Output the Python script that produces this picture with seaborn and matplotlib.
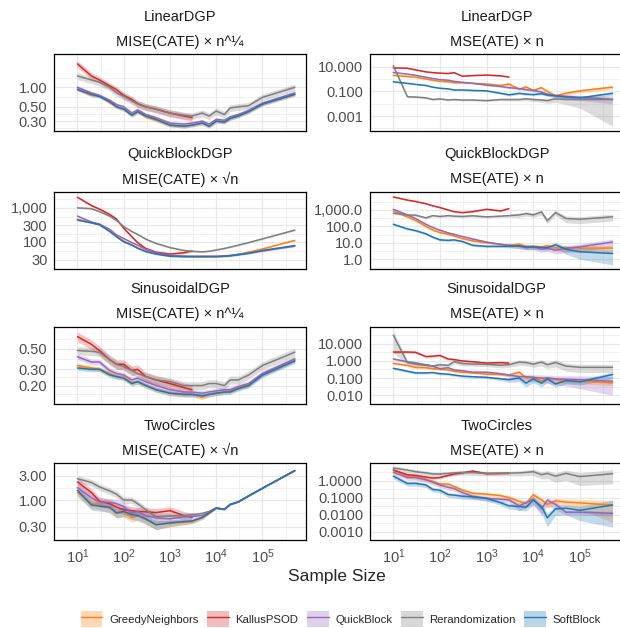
import numpy as np
import pandas as pd
import matplotlib
matplotlib.use("Agg")
import matplotlib.pyplot as plt
import seaborn as sns
from matplotlib.lines import Line2D
from matplotlib.patches import Patch
from matplotlib.ticker import NullFormatter

# === DANE ===
sample_sizes = [10, 20, 30, 50, 70, 100, 150, 200, 300, 500, 1000, 2000, 3000,
                5000, 7000, 10000, 15000, 20000, 30000, 50000, 100000, 500000]
methods = ["GreedyNeighbors", "KallusPSOD", "QuickBlock", "Rerandomization", "SoftBlock"]
colors = ["#ff7f0e", "#d62728", "#9467bd", "#7f7f7f", "#1f77b4"]

dgps = ["LinearDGP", "QuickBlockDGP", "SinusoidalDGP", "TwoCircles"]
cate_titles = ["MISE(CATE) × n^¼", "MISE(CATE) × √n", "MISE(CATE) × n^¼", "MISE(CATE) × √n"]
ate_title = "MSE(ATE) × n"

# --- LinearDGP ---
linear_cate = {
    "GreedyNeighbors": [0.95, 0.75, 0.74, 0.58, 0.50, 0.46, 0.37, 0.42, 0.35, 0.31, 0.26, 0.25, 0.26, 0.28, 0.25, 0.30, 0.29, 0.33, 0.36, 0.42, 0.55, 0.78],
    "KallusPSOD": [2.3, 1.5, 1.3, 1.05, 0.92, 0.75, 0.65, 0.56, 0.50, 0.46, 0.40, 0.36, 0.34],
    "QuickBlock": [1.0, 0.82, 0.75, 0.63, 0.54, 0.50, 0.40, 0.45, 0.38, 0.34, 0.28, 0.27, 0.28, 0.30, 0.27, 0.32, 0.31, 0.35, 0.38, 0.44, 0.57, 0.82],
    "Rerandomization": [1.5, 1.3, 1.2, 1.0, 0.82, 0.73, 0.62, 0.55, 0.50, 0.46, 0.40, 0.37, 0.36, 0.40, 0.36, 0.43, 0.38, 0.48, 0.50, 0.52, 0.70, 1.0],
    "SoftBlock": [0.92, 0.78, 0.72, 0.60, 0.50, 0.46, 0.37, 0.42, 0.36, 0.32, 0.26, 0.25, 0.26, 0.28, 0.25, 0.30, 0.29, 0.33, 0.36, 0.42, 0.55, 0.78],
}
linear_cate_err = {"GreedyNeighbors": 0.06, "KallusPSOD": 0.12, "QuickBlock": 0.06,
                   "Rerandomization": 0.12, "SoftBlock": 0.06}

linear_ate = {
    "GreedyNeighbors": [2.0, 1.6, 1.4, 1.0, 0.8, 0.66, 0.6, 0.5, 0.5, 0.45, 0.4, 0.3, 0.4, 0.15, 0.23, 0.12, 0.2, 0.1, 0.045, 0.07, 0.11, 0.22],
    "KallusPSOD": [8.0, 7.4, 5.5, 3.8, 3.3, 3.0, 2.8, 3.3, 1.7, 1.9, 2.1, 1.8, 1.45],
    "QuickBlock": [3.4, 2.5, 2.0, 1.4, 1.1, 0.9, 0.8, 0.65, 0.55, 0.45, 0.32, 0.25, 0.2, 0.17, 0.14, 0.12, 0.09, 0.06, 0.045, 0.04, 0.033, 0.022],
    "Rerandomization": [12.0, 0.037, 0.035, 0.03, 0.022, 0.025, 0.02, 0.022, 0.02, 0.02, 0.018, 0.022, 0.022, 0.022, 0.025, 0.022, 0.02, 0.018, 0.025, 0.022, 0.022, 0.022],
    "SoftBlock": [0.59, 0.45, 0.37, 0.3, 0.22, 0.18, 0.16, 0.13, 0.13, 0.12, 0.11, 0.07, 0.053, 0.07, 0.06, 0.055, 0.065, 0.05, 0.044, 0.035, 0.03, 0.07],
}
linear_ate_err = {
    "GreedyNeighbors": [0.1, 0.1, 0.1, 0.1, 0.1, 0.1, 0.1, 0.1, 0.1, 0.1, 0.12, 0.15, 0.25, 0.2, 0.2, 0.2, 0.2, 0.25, 0.3, 0.3, 0.3, 0.35],
    "KallusPSOD": 0.08,
    "QuickBlock": [0.12, 0.1, 0.1, 0.1, 0.1, 0.1, 0.1, 0.1, 0.1, 0.1, 0.12, 0.15, 0.15, 0.2, 0.2, 0.25, 0.3, 0.3, 0.35, 0.4, 0.45, 0.55],
    "Rerandomization": [0.3, 0.2, 0.15, 0.15, 0.15, 0.15, 0.15, 0.15, 0.15, 0.15, 0.15, 0.2, 0.25, 0.25, 0.3, 0.3, 0.35, 0.4, 0.5, 0.6, 0.8, 0.993],
    "SoftBlock": [0.12, 0.1, 0.1, 0.1, 0.1, 0.1, 0.1, 0.1, 0.1, 0.1, 0.12, 0.15, 0.2, 0.2, 0.2, 0.2, 0.2, 0.2, 0.25, 0.25, 0.3, 0.3],
}

# --- QuickBlockDGP ---
quick_cate = {
    "GreedyNeighbors": [460, 360, 320, 205, 145, 105, 82, 67, 53, 45, 39, 38, 37, 37, 37, 37, 38, 40, 43, 50, 62, 110],
    "KallusPSOD": [2000, 1150, 900, 630, 460, 250, 140, 95, 64, 50, 44, 48, 54],
    "QuickBlock": [565, 380, 330, 230, 160, 125, 95, 80, 60, 48, 40, 38, 38, 38, 38, 38, 39, 40, 43, 47, 54, 75],
    "Rerandomization": [980, 930, 760, 560, 420, 280, 200, 165, 120, 90, 68, 56, 53, 51, 53, 58, 64, 70, 80, 95, 122, 220],
    "SoftBlock": [430, 360, 315, 200, 140, 100, 80, 65, 52, 44, 38, 37, 37, 37, 37, 37, 38, 39, 42, 46, 56, 78],
}
quick_cate_err = {"GreedyNeighbors": 0.05, "KallusPSOD": 0.07, "QuickBlock": 0.05,
                  "Rerandomization": 0.05, "SoftBlock": 0.05}

quick_ate = {
    "GreedyNeighbors": [870, 380, 230, 100, 60, 42, 33, 26, 18, 13, 10, 8, 7, 8, 6, 6, 5.5, 6.5, 5, 5, 4.7, 4.7],
    "KallusPSOD": [6200, 4000, 3300, 2400, 1800, 1400, 1000, 790, 690, 790, 1100, 870, 1200],
    "QuickBlock": [1100, 500, 300, 134, 85, 58, 40, 33, 24, 17, 11, 8, 7, 6, 5, 5.6, 4, 4.5, 3.5, 4.5, 5.6, 11],
    "Rerandomization": [630, 500, 480, 330, 450, 400, 450, 420, 400, 440, 380, 420, 450, 500, 600, 500, 750, 220, 700, 300, 270, 380],
    "SoftBlock": [134, 70, 55, 35, 22, 15, 14, 15, 12, 7, 6, 6, 6, 6.5, 5.5, 5.6, 5.2, 5, 7.5, 4, 2.8, 2.2],
}
quick_ate_err = {
    "GreedyNeighbors": [0.15, 0.15, 0.15, 0.15, 0.15, 0.15, 0.15, 0.15, 0.15, 0.15, 0.15, 0.15, 0.2, 0.25, 0.3, 0.3, 0.3, 0.3, 0.35, 0.4, 0.45, 0.5],
    "KallusPSOD": 0.08,
    "QuickBlock": [0.12, 0.12, 0.12, 0.12, 0.12, 0.12, 0.12, 0.12, 0.12, 0.12, 0.12, 0.12, 0.2, 0.3, 0.3, 0.35, 0.35, 0.35, 0.4, 0.45, 0.5, 0.55],
    "Rerandomization": [0.15, 0.15, 0.15, 0.15, 0.15, 0.15, 0.15, 0.15, 0.15, 0.15, 0.15, 0.15, 0.2, 0.3, 0.3, 0.3, 0.35, 0.35, 0.35, 0.45, 0.45, 0.45],
    "SoftBlock": [0.15, 0.15, 0.15, 0.15, 0.15, 0.15, 0.15, 0.15, 0.15, 0.15, 0.15, 0.15, 0.2, 0.3, 0.3, 0.3, 0.3, 0.3, 0.4, 0.5, 0.65, 0.8],
}

# --- SinusoidalDGP ---
sin_cate = {
    "GreedyNeighbors": [0.33, 0.31, 0.30, 0.27, 0.25, 0.245, 0.215, 0.22, 0.20, 0.18, 0.165, 0.16, 0.16, 0.15, 0.16, 0.165, 0.17, 0.175, 0.19, 0.205, 0.265, 0.38],
    "KallusPSOD": [0.68, 0.56, 0.48, 0.38, 0.34, 0.34, 0.29, 0.30, 0.25, 0.23, 0.21, 0.19, 0.18],
    "QuickBlock": [0.41, 0.36, 0.36, 0.29, 0.27, 0.26, 0.23, 0.24, 0.22, 0.20, 0.18, 0.17, 0.17, 0.165, 0.17, 0.175, 0.18, 0.18, 0.195, 0.21, 0.27, 0.39],
    "Rerandomization": [0.48, 0.47, 0.46, 0.38, 0.34, 0.32, 0.29, 0.27, 0.25, 0.23, 0.22, 0.20, 0.20, 0.20, 0.21, 0.21, 0.20, 0.23, 0.23, 0.26, 0.33, 0.46],
    "SoftBlock": [0.31, 0.30, 0.30, 0.26, 0.25, 0.24, 0.21, 0.22, 0.20, 0.18, 0.165, 0.16, 0.16, 0.155, 0.16, 0.165, 0.17, 0.17, 0.185, 0.20, 0.26, 0.37],
}
sin_cate_err = {"GreedyNeighbors": 0.06, "KallusPSOD": 0.12, "QuickBlock": 0.07,
                "Rerandomization": 0.1, "SoftBlock": 0.06}

sin_ate = {
    "GreedyNeighbors": [0.72, 0.55, 0.42, 0.4, 0.35, 0.33, 0.3, 0.25, 0.22, 0.2, 0.17, 0.16, 0.15, 0.22, 0.1, 0.11, 0.07, 0.1, 0.08, 0.07, 0.065, 0.052],
    "KallusPSOD": [3.3, 3.3, 3.2, 1.8, 1.9, 2.1, 1.3, 1.2, 1.0, 0.9, 0.75, 0.8, 0.75],
    "QuickBlock": [1.3, 0.9, 0.77, 0.6, 0.5, 0.35, 0.4, 0.3, 0.27, 0.22, 0.22, 0.18, 0.15, 0.12, 0.12, 0.11, 0.1, 0.1, 0.09, 0.085, 0.08, 0.065],
    "Rerandomization": [32, 0.8, 0.63, 0.55, 0.5, 0.6, 0.55, 0.9, 0.7, 0.65, 0.63, 0.56, 0.6, 0.85, 0.8, 0.65, 0.85, 0.6, 0.8, 0.5, 0.42, 0.42],
    "SoftBlock": [0.37, 0.25, 0.2, 0.2, 0.21, 0.18, 0.17, 0.15, 0.13, 0.12, 0.11, 0.09, 0.08, 0.1, 0.05, 0.09, 0.05, 0.09, 0.045, 0.07, 0.06, 0.16],
}
sin_ate_err = {
    "GreedyNeighbors": [0.15, 0.15, 0.15, 0.15, 0.15, 0.15, 0.15, 0.15, 0.15, 0.15, 0.15, 0.15, 0.2, 0.3, 0.3, 0.3, 0.3, 0.3, 0.3, 0.3, 0.3, 0.3],
    "KallusPSOD": 0.15,
    "QuickBlock": [0.15, 0.15, 0.15, 0.15, 0.15, 0.15, 0.15, 0.15, 0.15, 0.15, 0.15, 0.15, 0.25, 0.35, 0.4, 0.45, 0.5, 0.5, 0.55, 0.6, 0.7, 0.85],
    "Rerandomization": [0.9, 0.3, 0.25, 0.25, 0.25, 0.25, 0.25, 0.25, 0.25, 0.25, 0.25, 0.3, 0.3, 0.35, 0.35, 0.35, 0.4, 0.4, 0.45, 0.5, 0.5, 0.5],
    "SoftBlock": [0.15, 0.15, 0.15, 0.15, 0.15, 0.15, 0.15, 0.15, 0.15, 0.15, 0.15, 0.2, 0.3, 0.4, 0.4, 0.4, 0.4, 0.4, 0.35, 0.35, 0.35, 0.4],
}

# --- TwoCircles ---
tc_cate = {
    "GreedyNeighbors": [1.4, 0.86, 0.81, 0.7, 0.56, 0.58, 0.46, 0.5, 0.42, 0.33, 0.35, 0.37, 0.38, 0.45, 0.55, 0.7, 0.66, 0.82, 0.92, 1.2, 1.7, 3.75],
    "KallusPSOD": [2.25, 1.4, 0.95, 0.85, 0.73, 0.65, 0.62, 0.6, 0.59, 0.57, 0.62, 0.5, 0.46],
    "QuickBlock": [1.75, 1.1, 0.92, 0.9, 0.85, 0.75, 0.55, 0.6, 0.5, 0.45, 0.43, 0.47, 0.48, 0.5, 0.58, 0.7, 0.66, 0.82, 0.92, 1.2, 1.7, 3.75],
    "Rerandomization": [2.6, 2.2, 1.8, 1.5, 1.3, 1.0, 1.0, 0.85, 0.65, 0.47, 0.49, 0.5, 0.52, 0.55, 0.6, 0.7, 0.66, 0.82, 0.92, 1.2, 1.7, 3.75],
    "SoftBlock": [1.55, 0.8, 0.76, 0.72, 0.56, 0.6, 0.52, 0.5, 0.43, 0.33, 0.36, 0.38, 0.39, 0.46, 0.56, 0.7, 0.66, 0.82, 0.92, 1.2, 1.7, 3.75],
}
tc_cate_err = {
    "GreedyNeighbors": [0.2, 0.2, 0.2, 0.2, 0.2, 0.2, 0.2, 0.2, 0.2, 0.2, 0.15, 0.12, 0.1, 0.08, 0.05, 0.04, 0.03, 0.03, 0.02, 0.02, 0.02, 0.02],
    "KallusPSOD": 0.2,
    "QuickBlock": [0.2, 0.2, 0.2, 0.2, 0.2, 0.2, 0.2, 0.2, 0.2, 0.2, 0.15, 0.12, 0.1, 0.08, 0.05, 0.04, 0.03, 0.03, 0.02, 0.02, 0.02, 0.02],
    "Rerandomization": [0.15, 0.15, 0.15, 0.15, 0.15, 0.15, 0.15, 0.15, 0.15, 0.15, 0.12, 0.1, 0.08, 0.06, 0.05, 0.04, 0.03, 0.03, 0.02, 0.02, 0.02, 0.02],
    "SoftBlock": [0.2, 0.2, 0.2, 0.2, 0.2, 0.2, 0.2, 0.2, 0.2, 0.2, 0.15, 0.12, 0.1, 0.08, 0.05, 0.04, 0.03, 0.03, 0.02, 0.02, 0.02, 0.02],
}

tc_ate = {
    "GreedyNeighbors": [4.1, 1.8, 1.6, 1.2, 0.9, 0.62, 0.62, 0.45, 0.28, 0.18, 0.16, 0.13, 0.1, 0.06, 0.045, 0.146, 0.073, 0.04, 0.065, 0.055, 0.049, 0.036],
    "KallusPSOD": [4.1, 2.2, 2.0, 1.6, 1.4, 1.5, 2.0, 2.4, 2.8, 3.6, 2.5, 2.6, 2.7],
    "QuickBlock": [3.0, 1.5, 1.5, 1.1, 0.8, 0.55, 0.4, 0.34, 0.2, 0.12, 0.09, 0.08, 0.073, 0.033, 0.05, 0.08, 0.022, 0.07, 0.04, 0.014, 0.014, 0.012],
    "Rerandomization": [5.4, 4.1, 3.3, 2.8, 2.4, 2.4, 2.6, 2.8, 3.0, 2.9, 2.7, 2.7, 2.7, 2.8, 3.0, 3.3, 2.2, 2.6, 1.8, 2.6, 1.7, 2.5],
    "SoftBlock": [1.8, 0.67, 0.68, 0.55, 0.3, 0.27, 0.15, 0.14, 0.12, 0.11, 0.09, 0.05, 0.033, 0.03, 0.027, 0.073, 0.03, 0.0066, 0.022, 0.024, 0.018, 0.037],
}
tc_ate_err = {
    "GreedyNeighbors": [0.25, 0.25, 0.25, 0.25, 0.25, 0.25, 0.25, 0.25, 0.25, 0.25, 0.25, 0.25, 0.3, 0.35, 0.35, 0.4, 0.4, 0.4, 0.4, 0.45, 0.6, 0.9],
    "KallusPSOD": 0.15,
    "QuickBlock": [0.3, 0.3, 0.3, 0.3, 0.3, 0.3, 0.3, 0.3, 0.3, 0.3, 0.3, 0.3, 0.3, 0.5, 0.5, 0.5, 0.6, 0.5, 0.5, 0.3, 0.3, 0.3],
    "Rerandomization": [0.3, 0.3, 0.3, 0.3, 0.3, 0.3, 0.3, 0.3, 0.3, 0.3, 0.3, 0.3, 0.3, 0.35, 0.35, 0.4, 0.45, 0.5, 0.55, 0.6, 0.7, 0.75],
    "SoftBlock": [0.3, 0.3, 0.3, 0.3, 0.3, 0.3, 0.3, 0.3, 0.3, 0.3, 0.3, 0.3, 0.35, 0.4, 0.4, 0.5, 0.6, 0.7, 0.6, 0.6, 0.75, 0.95],
}

# === OSIE Y (ticki i zakresy) ===
y_ticks = [
    ([0.3, 0.5, 1.0], ["0.30", "0.50", "1.00"]),
    ([0.001, 0.1, 10], ["0.001", "0.100", "10.000"]),
    ([30, 100, 300, 1000], ["30", "100", "300", "1,000"]),
    ([1, 10, 100, 1000], ["1.0", "10.0", "100.0", "1,000.0"]),
    ([0.2, 0.3, 0.5], ["0.20", "0.30", "0.50"]),
    ([0.01, 0.1, 1, 10], ["0.010", "0.100", "1.000", "10.000"]),
    ([0.3, 1, 3], ["0.30", "1.00", "3.00"]),
    ([0.001, 0.01, 0.1, 1], ["0.0010", "0.0100", "0.1000", "1.0000"]),
]
y_limits = [(0.209, 3.24), (5.9e-5, 69), (26, 2900), (0.26, 13000),
            (0.127, 0.87), (0.0066, 100), (0.247, 4.4), (0.001, 10.2)]
x_ticks = [10, 100, 1000, 10000, 100000]
x_labels = [r"$\mathregular{10^{1}}$", r"$\mathregular{10^{2}}$", r"$\mathregular{10^{3}}$",
            r"$\mathregular{10^{4}}$", r"$\mathregular{10^{5}}$"]

panel_values = [linear_cate, linear_ate, quick_cate, quick_ate, sin_cate, sin_ate, tc_cate, tc_ate]
panel_errs = [linear_cate_err, linear_ate_err, quick_cate_err, quick_ate_err,
              sin_cate_err, sin_ate_err, tc_cate_err, tc_ate_err]


# === FUNKCJA: dane jednego panelu w formacie long ===
def panel_frame(values, errs):
    frames = []
    n_all = len(sample_sizes)
    for m in methods:
        v = np.full(n_all, np.nan)
        v[:len(values[m])] = values[m]
        r = np.broadcast_to(np.asarray(errs[m], dtype=float), (n_all,))  # skalar albo lista
        frames.append(pd.DataFrame({"n": sample_sizes, "method": m, "value": v,
                                    "lo": np.clip(v * (1 - r), 1e-9, None), "hi": v * (1 + r)}))
    return pd.concat(frames).dropna()


# === STYL ===
sns.set_style("white")
plt.rcParams["font.family"] = ["Liberation Sans", "DejaVu Sans"]
plt.rcParams["mathtext.fontset"] = "custom"
plt.rcParams["mathtext.rm"] = "Liberation Sans"
plt.rcParams["mathtext.it"] = "Liberation Sans:italic"

W, H = 620, 628
fig = plt.figure(figsize=(W / 100, H / 100), dpi=100)
col_left = [54.3, 370.0]
col_width = [251.4, 253.5]  # prawa kolumna wychodzi poza kadr jak w oryginale
row_top = [54.3, 191.7, 326.7, 463.3]
row_h = 77.0
minor_x = [10 ** k for k in np.arange(0.5, 6.0, 1.0)]

# === RYSOWANIE PANELI ===
for i in range(8):
    row, col = divmod(i, 2)
    ax = fig.add_axes([col_left[col] / W, 1 - (row_top[row] + row_h) / H, col_width[col] / W, row_h / H])
    df = panel_frame(panel_values[i], panel_errs[i])

    # pasy niepewności
    for m, c in zip(methods, colors):
        d = df[df["method"] == m]
        ax.fill_between(d["n"], d["lo"], d["hi"], color=c, alpha=0.27, lw=0, zorder=1)

    sns.lineplot(data=df, x="n", y="value", hue="method", hue_order=methods, palette=colors,
                 errorbar=None, legend=False, lw=1.1, ax=ax, zorder=2)

    ax.set_xscale("log")
    ax.set_yscale("log")
    ax.set_xlim(10 ** 0.765, 10 ** 5.934)
    ax.set_ylim(*y_limits[i])

    ticks, labels = y_ticks[i]
    logs = np.log10(ticks)
    step_lo, step_hi = logs[1] - logs[0], logs[-1] - logs[-2]
    minor_y = [10 ** ((a + b) / 2) for a, b in zip(logs[:-1], logs[1:])]
    minor_y += [10 ** (logs[0] - step_lo / 2), 10 ** (logs[-1] + step_hi / 2)]
    ax.set_yticks(ticks)
    ax.set_yticklabels(labels)
    ax.set_yticks(minor_y, minor=True)
    ax.yaxis.set_minor_formatter(NullFormatter())

    ax.set_xticks(x_ticks)
    ax.set_xticks(minor_x, minor=True)
    ax.xaxis.set_minor_formatter(NullFormatter())
    if row == 3:
        ax.set_xticklabels(x_labels)
    else:
        ax.set_xticklabels([])

    ax.set_xlabel("")
    ax.set_ylabel("")
    ax.tick_params(which="both", length=0, labelsize=10.5, colors="#4d4d4d")
    ax.tick_params(axis="y", pad=5)
    ax.tick_params(axis="x", pad=5)
    ax.set_axisbelow(True)
    ax.grid(which="major", color="#e8e8e8", lw=0.9)
    ax.grid(which="minor", color="#efefef", lw=0.6)
    for s in ax.spines.values():
        s.set_color("black")
        s.set_linewidth(0.9)

    # tytuły paneli (dwie linie jak w facet_wrap)
    metric = cate_titles[row] if col == 0 else ate_title
    ax.annotate(dgps[row], xy=(0.5, 1), xycoords="axes fraction", xytext=(0, 27),
                textcoords="offset points", ha="center", va="center", fontsize=10.5, color="#1a1a1a")
    ax.annotate(metric, xy=(0.5, 1), xycoords="axes fraction", xytext=(0, 9),
                textcoords="offset points", ha="center", va="center", fontsize=10.5, color="#1a1a1a")

fig.text(337 / W, 1 - 577 / H, "Sample Size", ha="center", va="center", fontsize=12.5)

# === LEGENDA ===
handles = [(Patch(facecolor=c, alpha=0.3, edgecolor="none"), Line2D([], [], color=c, lw=1.0)) for c in colors]
fig.legend(handles, methods, loc="center", bbox_to_anchor=(341 / W, 1 - 619 / H), ncol=5,
           frameon=False, fontsize=8.2, handlelength=1.9, handleheight=1.8,
           handletextpad=0.6, columnspacing=0.75)

fig.savefig("out.png", dpi=100)
